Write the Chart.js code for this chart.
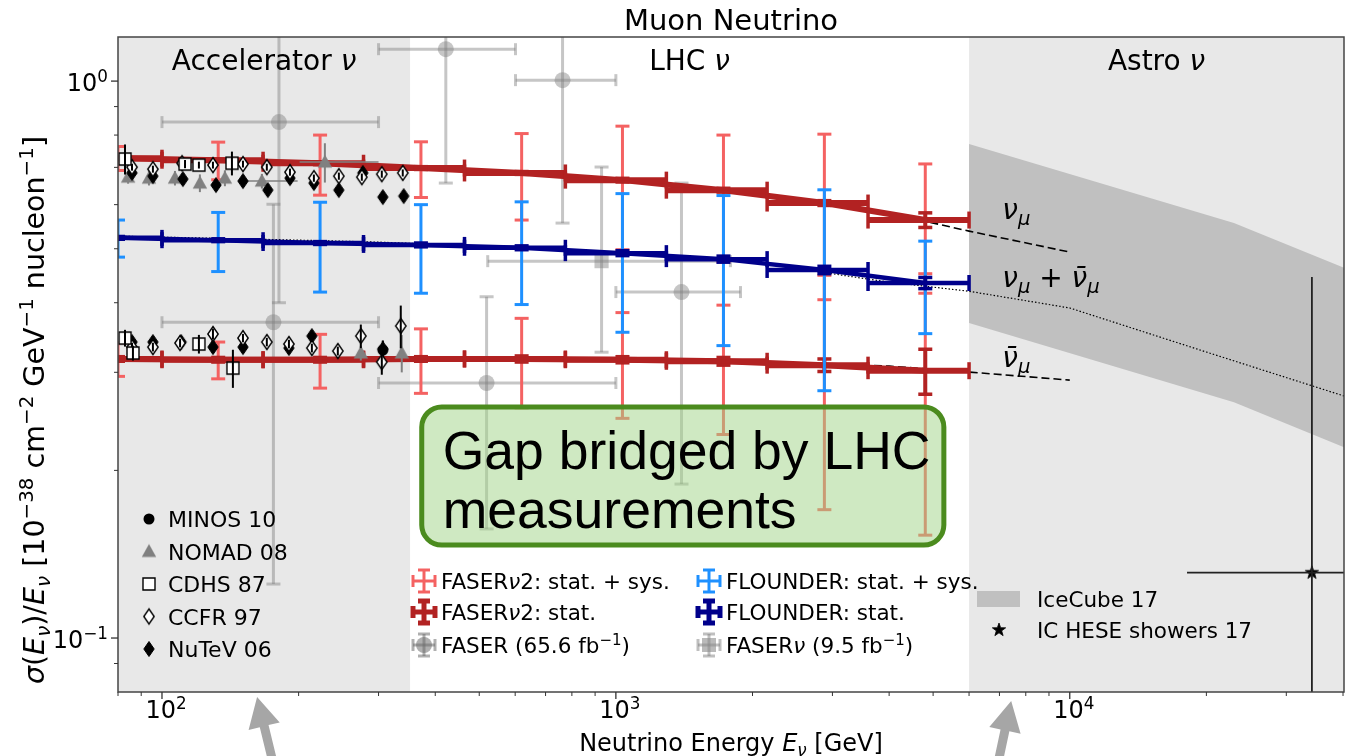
<!DOCTYPE html>
<html>
<head>
<meta charset="utf-8">
<script src="https://cdn.jsdelivr.net/npm/chart.js@4.4.1/dist/chart.umd.min.js"></script>
<style>
  html, body { margin: 0; padding: 0; background: #fff; }
  canvas { display: block; }
</style>
</head>
<body>
<canvas id="chart" width="1354" height="756"></canvas>
<script>
// axis limits and tick values
const xMin = 80, xMax = 40200, yMin = 0.08, yMax = 1.2;
const xMajor = [100, 1000, 10000];
const xMajorLabels = ['2', '3', '4'];
const xMinor = [80, 90, 200, 300, 400, 500, 600, 700, 800, 900, 2000, 3000, 4000, 5000, 6000, 7000, 8000, 9000, 20000, 30000, 40000];
const yMajor = [1, 0.1];
const yMajorLabels = ['0', '−1'];
const yMinor = [0.09, 0.2, 0.3, 0.4, 0.5, 0.6, 0.7, 0.8, 0.9];

// energy regions
const regionEdges = [80, 352, 6000, 40200];
const regionNames = ['Accelerator ', 'LHC ', 'Astro '];

// FASERnu2 / FLOUNDER projections
const binEdges = [60, 100, 167, 278, 464, 774, 1292, 2154, 3594, 6000];
const binCenters = [80, 133, 223, 372, 620, 1034, 1726, 2880, 4805];
const nuVal = [0.727, 0.721, 0.712, 0.698, 0.684, 0.664, 0.637, 0.604, 0.563];
const nuSys = [0.036, 0.056, 0.088, 0.080, 0.121, 0.166, 0.163, 0.199, 0.147];
const nuStat = [0.003, 0.003, 0.004, 0.004, 0.004, 0.005, 0.005, 0.006, 0.017];
const nubarVal = [0.317, 0.316, 0.316, 0.317, 0.317, 0.316, 0.314, 0.309, 0.302];
const nubarSys = [0.022, 0.024, 0.035, 0.042, 0.058, 0.068, 0.082, 0.139, 0.149];
const nubarStat = [0.003, 0.003, 0.003, 0.003, 0.004, 0.004, 0.005, 0.008, 0.028];
const sumVal = [0.523, 0.518, 0.512, 0.508, 0.502, 0.491, 0.479, 0.458, 0.434];
const sumSys = [0.040, 0.063, 0.094, 0.092, 0.105, 0.137, 0.144, 0.180, 0.082];
const sumStat = [0.003, 0.003, 0.003, 0.004, 0.004, 0.005, 0.006, 0.007, 0.010];

// theory curves
const theoryE = [80, 100, 200, 300, 500, 1000, 2000, 4000, 6000, 10000];
const theoryNu = [0.727, 0.7245, 0.7154, 0.7066, 0.6892, 0.6632, 0.6296, 0.5794, 0.5378, 0.4932];
const theoryNubar = [0.3169, 0.3169, 0.3169, 0.3169, 0.3164, 0.3156, 0.3130, 0.3078, 0.3003, 0.2905];
const theorySumE = [80, 100, 200, 300, 500, 1000, 2000, 4000, 6000, 10000, 20000, 40200];
const theorySum = [0.5268, 0.5246, 0.5182, 0.5139, 0.5055, 0.4932, 0.4732, 0.4356, 0.4194, 0.3914, 0.3262, 0.2720];

// IceCube
const iceE = [6000, 23000, 40200];
const iceHi = [0.771, 0.556, 0.462];
const iceLo = [0.368, 0.265, 0.220];
const heseE = [34160], heseVal = [0.131], heseXlo = [18130], heseXhi = [60000], heseYlo = [0.05], heseYhi = [0.445];

// FASER 65.6 fb-1 and FASERnu 9.5 fb-1
const faserE = [181, 422, 763, 176, 519, 1395];
const faserVal = [0.844, 1.141, 1.004, 0.369, 0.287, 0.418];
const faserXlo = [100, 300, 601, 100, 300, 1000];
const faserXhi = [300, 601, 1000, 300, 1000, 1882];
const faserYlo = [0.400, 0.656, 0.556, 0.125, 0.157, 0.189];
const faserYhi = [1.6, 1.7, 1.5, 0.601, 0.410, 0.656];
const fasernuE = [930], fasernuVal = [0.475], fasernuXlo = [522], fasernuXhi = [1788], fasernuYlo = [0.326], fasernuYhi = [0.701];

// accelerator measurements
const minosE = [306.6], minosVal = [0.3289], minosErr = [0.012];
const nomadE = [84.2, 93.6, 106.8, 121.2, 137.6, 166.0, 228.5, 274.2, 337.5];
const nomadVal = [0.6723, 0.6695, 0.6695, 0.6559, 0.6695, 0.6613, 0.7154, 0.3249, 0.3249];
const nomadErr = [0.018, 0.02, 0.02, 0.024, 0.022, 0.02, 0.058, 0.01, 0.025];
const nomadXlo = [null, null, null, null, null, 147, 201, null, null];
const nomadXhi = [null, null, null, null, null, 199, 300, null, null];
const cdhsE = [82.9, 112.4, 120.6, 142.6, 82.9, 86.3, 120.6, 143.3];
const cdhsVal = [0.7245, 0.7096, 0.7066, 0.7121, 0.3456, 0.3249, 0.3372, 0.3053];
const cdhsErr = [0.045, 0.012, 0.01, 0.035, 0.012, 0.01, 0.013, 0.024];
const ccfrE = [85.9, 95.5, 110.7, 129.5, 150.8, 170.2, 191.4, 216.1, 245.3, 275.6, 305.0, 339.2,
               85.9, 95.5, 109.6, 129.5, 150.8, 170.2, 190.4, 213.9, 244.0, 274.2, 305.0, 335.8];
const ccfrVal = [0.7006, 0.6949, 0.7121, 0.7066, 0.7096, 0.7006, 0.6863, 0.6695, 0.6751, 0.6723, 0.6807, 0.6841,
                 0.3330, 0.3330, 0.3386, 0.3514, 0.3456, 0.3400, 0.3372, 0.3317, 0.3276, 0.3485, 0.3130, 0.3633];
const ccfrErr = [0.01, 0.01, 0.01, 0.01, 0.01, 0.01, 0.01, 0.01, 0.01, 0.01, 0.01, 0.01,
                 0.006, 0.006, 0.006, 0.008, 0.006, 0.006, 0.006, 0.006, 0.006, 0.017, 0.016, 0.032];
const nutevE = [85.9, 95.5, 111.2, 131.5, 150.8, 171.1, 191.4, 216.1, 245.3, 277.0, 306.6, 340.9,
                85.9, 95.5, 110.2, 129.5, 150.8, 190.4, 213.9, 306.6];
const nutevVal = [0.6841, 0.6751, 0.6668, 0.6505, 0.6613, 0.6372, 0.6695, 0.6559, 0.6372, 0.6841, 0.6190, 0.6216,
                  0.3400, 0.3400, 0.3400, 0.3330, 0.3330, 0.3317, 0.3485, 0.3303];
const nutevErr = [0.008, 0.008, 0.008, 0.008, 0.008, 0.008, 0.008, 0.008, 0.008, 0.008, 0.008, 0.008,
                  0.005, 0.005, 0.005, 0.005, 0.005, 0.005, 0.005, 0.012];

const LIGHT_RED = 'rgb(244,98,98)', DARK_RED = '#b22222', LIGHT_BLUE = '#1e90ff', DARK_BLUE = '#00008b';
const GRAY_A = 'rgba(128,128,128,0.45)', SHADE = '#e8e8e8', BAND = '#c0c0c0';
const FONT = '"DejaVu Sans"';

const pts = (xs, ys) => xs.map((x, i) => ({ x, y: ys[i] }));
const minus = (v, e) => v.map((a, i) => a - e[i]);
const plus = (v, e) => v.map((a, i) => a + e[i]);

function marker(kind, fill, stroke, lw) {
  const c = document.createElement('canvas');
  c.width = 20; c.height = 20;
  const g = c.getContext('2d');
  g.translate(10, 10);
  g.beginPath();
  if (kind === 'd') { g.moveTo(0, -7.5); g.lineTo(5.2, 0); g.lineTo(0, 7.5); g.lineTo(-5.2, 0); g.closePath(); }
  else if (kind === 's') g.rect(-6, -6, 12, 12);
  else if (kind === '^') { g.moveTo(0, -7.5); g.lineTo(7.2, 5.5); g.lineTo(-7.2, 5.5); g.closePath(); }
  else if (kind === 'o') g.arc(0, 0, 5.5, 0, Math.PI * 2);
  else if (kind === '*') {
    for (let k = 0; k < 10; k++) {
      const r = k % 2 ? 2.8 : 7, a = -Math.PI / 2 + k * Math.PI / 5;
      g.lineTo(r * Math.cos(a), r * Math.sin(a));
    }
    g.closePath();
  }
  g.fillStyle = fill; g.fill();
  if (stroke) { g.lineWidth = lw; g.strokeStyle = stroke; g.stroke(); }
  return c;
}
const mk = {
  minos: marker('o', '#000'),
  nomad: marker('^', '#808080'),
  cdhs: marker('s', '#fff', '#000', 1.4),
  ccfr: marker('d', '#fff', '#000', 1.4),
  nutev: marker('d', '#000', '#000', 1),
  star: marker('*', '#000', '#000', 0.8)
};

const base = { showLine: false, pointRadius: 0, borderWidth: 0 };
const datasets = [
  Object.assign({}, base, { order: 100, data: pts(iceE, iceLo), showLine: true, fill: false }),
  Object.assign({}, base, { order: 100, data: pts(iceE, iceHi), showLine: true, fill: '-1', backgroundColor: BAND }),
  Object.assign({}, base, { order: 90, data: pts(faserE, faserVal), pointStyle: 'circle', pointRadius: 8, backgroundColor: GRAY_A,
    eb: { color: GRAY_A, xlo: faserXlo, xhi: faserXhi, ylo: faserYlo, yhi: faserYhi, xw: 3, yw: 3, xcap: 6, ycap: 7, capw: 3 } }),
  Object.assign({}, base, { order: 90, data: pts(fasernuE, fasernuVal), pointStyle: 'rect', pointRadius: 10, backgroundColor: 'rgba(140,140,140,0.5)',
    eb: { color: GRAY_A, xlo: fasernuXlo, xhi: fasernuXhi, ylo: fasernuYlo, yhi: fasernuYhi, xw: 3, yw: 3, xcap: 6, ycap: 7, capw: 3 } }),
  Object.assign({}, base, { order: 85, data: pts(theorySumE, theorySum), showLine: true, borderWidth: 1.2, borderColor: '#000', borderDash: [1.5, 2] }),
  Object.assign({}, base, { order: 85, data: pts(theoryE, theoryNu), showLine: true, borderWidth: 1.6, borderColor: '#000', borderDash: [8, 4] }),
  Object.assign({}, base, { order: 85, data: pts(theoryE, theoryNubar), showLine: true, borderWidth: 1.6, borderColor: '#000', borderDash: [8, 4] }),
  Object.assign({}, base, { order: 80, data: pts(heseE, heseVal), pointStyle: mk.star, pointRadius: 6,
    eb: { color: '#222', xlo: heseXlo, xhi: heseXhi, ylo: heseYlo, yhi: heseYhi, xw: 1.8, yw: 1.8 } }),
  Object.assign({}, base, { order: 60, data: pts(binCenters, nuVal),
    eb: { color: LIGHT_RED, ylo: minus(nuVal, nuSys), yhi: plus(nuVal, nuSys), yw: 3, ycap: 7, capw: 3 } }),
  Object.assign({}, base, { order: 60, data: pts(binCenters, nubarVal),
    eb: { color: LIGHT_RED, ylo: minus(nubarVal, nubarSys), yhi: plus(nubarVal, nubarSys), yw: 3, ycap: 7, capw: 3 } }),
  Object.assign({}, base, { order: 50, data: pts(binCenters, nuVal), showLine: true, borderWidth: 6, borderColor: DARK_RED,
    eb: { color: DARK_RED, xlo: binEdges.slice(0, -1), xhi: binEdges.slice(1), ylo: minus(nuVal, nuStat), yhi: plus(nuVal, nuStat), xw: 6, yw: 4, xcap: 8.5, ycap: 7, capw: 3.5 } }),
  Object.assign({}, base, { order: 50, data: pts(binCenters, nubarVal), showLine: true, borderWidth: 6, borderColor: DARK_RED,
    eb: { color: DARK_RED, xlo: binEdges.slice(0, -1), xhi: binEdges.slice(1), ylo: minus(nubarVal, nubarStat), yhi: plus(nubarVal, nubarStat), xw: 6, yw: 4, xcap: 8.5, ycap: 7, capw: 3.5 } }),
  Object.assign({}, base, { order: 40, data: pts(binCenters, sumVal),
    eb: { color: LIGHT_BLUE, ylo: minus(sumVal, sumSys), yhi: plus(sumVal, sumSys), yw: 3, ycap: 7, capw: 3 } }),
  Object.assign({}, base, { order: 30, data: pts(binCenters, sumVal), showLine: true, borderWidth: 4.5, borderColor: DARK_BLUE,
    eb: { color: DARK_BLUE, xlo: binEdges.slice(0, -1), xhi: binEdges.slice(1), ylo: minus(sumVal, sumStat), yhi: plus(sumVal, sumStat), xw: 4.5, yw: 4, xcap: 8, ycap: 7, capw: 3.5 } }),
  Object.assign({}, base, { order: 12, data: pts(nomadE, nomadVal), pointStyle: mk.nomad, pointRadius: 6,
    eb: { color: '#808080', xlo: nomadXlo, xhi: nomadXhi, ylo: minus(nomadVal, nomadErr), yhi: plus(nomadVal, nomadErr), xw: 1.5, yw: 2 } }),
  Object.assign({}, base, { order: 11, data: pts(minosE, minosVal), pointStyle: mk.minos, pointRadius: 6,
    eb: { color: '#000', ylo: minus(minosVal, minosErr), yhi: plus(minosVal, minosErr), yw: 2 } }),
  Object.assign({}, base, { order: 10, data: pts(nutevE, nutevVal), pointStyle: mk.nutev, pointRadius: 6,
    eb: { color: '#000', ylo: minus(nutevVal, nutevErr), yhi: plus(nutevVal, nutevErr), yw: 2 } }),
  Object.assign({}, base, { order: 9, data: pts(ccfrE, ccfrVal), pointStyle: mk.ccfr, pointRadius: 6,
    eb: { color: '#000', ylo: minus(ccfrVal, ccfrErr), yhi: plus(ccfrVal, ccfrErr), yw: 2 } }),
  Object.assign({}, base, { order: 8, data: pts(cdhsE, cdhsVal), pointStyle: mk.cdhs, pointRadius: 6,
    eb: { color: '#000', ylo: minus(cdhsVal, cdhsErr), yhi: plus(cdhsVal, cdhsErr), yw: 2 } })
];

function seg(ctx, x0, y0, x1, y1, w) {
  ctx.lineWidth = w;
  ctx.beginPath(); ctx.moveTo(x0, y0); ctx.lineTo(x1, y1); ctx.stroke();
}

// text with italic / superscript / subscript pieces: [text, flags]
function rich(ctx, parts, x, y, size, align, family) {
  const fam = family || FONT;
  const items = parts.map(([t, f = '']) => {
    const small = f.includes('^') || f.includes('_');
    const font = (f.includes('i') ? 'italic ' : '') + (small ? size * 0.7 : size).toFixed(1) + 'px ' + fam;
    ctx.font = font;
    return { t, font, w: ctx.measureText(t).width, dy: f.includes('^') ? -size * 0.38 : f.includes('_') ? size * 0.22 : 0 };
  });
  const total = items.reduce((s, it) => s + it.w, 0);
  let cx = align === 'center' ? x - total / 2 : align === 'right' ? x - total : x;
  ctx.textAlign = 'left';
  ctx.textBaseline = 'alphabetic';
  items.forEach(it => { ctx.font = it.font; ctx.fillText(it.t, cx, y + it.dy); cx += it.w; });
  return total;
}

const errorBarPlugin = {
  id: 'errorBars',
  afterDatasetDraw(chart, args) {
    const ds = chart.data.datasets[args.index];
    const eb = ds.eb;
    if (!eb) return;
    const { ctx, chartArea: a } = chart;
    const xs = chart.scales.x, ys = chart.scales.y;
    ctx.save();
    ctx.beginPath(); ctx.rect(a.left, a.top, a.right - a.left, a.bottom - a.top); ctx.clip();
    ctx.strokeStyle = eb.color;
    ctx.lineCap = 'butt';
    ds.data.forEach((p, i) => {
      const px = xs.getPixelForValue(p.x), py = ys.getPixelForValue(p.y);
      if (eb.xlo && eb.xlo[i] != null) {
        const x0 = xs.getPixelForValue(eb.xlo[i]), x1 = xs.getPixelForValue(eb.xhi[i]);
        seg(ctx, x0, py, x1, py, eb.xw);
        if (eb.xcap) {
          seg(ctx, x0, py - eb.xcap, x0, py + eb.xcap, eb.capw);
          seg(ctx, x1, py - eb.xcap, x1, py + eb.xcap, eb.capw);
        }
      }
      if (eb.ylo && eb.ylo[i] != null) {
        const y0 = ys.getPixelForValue(eb.ylo[i]), y1 = ys.getPixelForValue(eb.yhi[i]);
        seg(ctx, px, y0, px, y1, eb.yw);
        if (eb.ycap) {
          seg(ctx, px - eb.ycap, y0, px + eb.ycap, y0, eb.capw);
          seg(ctx, px - eb.ycap, y1, px + eb.ycap, y1, eb.capw);
        }
      }
    });
    ctx.restore();
  }
};

const backgroundPlugin = {
  id: 'background',
  beforeDraw(chart) {
    const ctx = chart.ctx;
    ctx.save(); ctx.fillStyle = '#fff'; ctx.fillRect(0, 0, chart.width, chart.height); ctx.restore();
  },
  beforeDatasetsDraw(chart) {
    const { ctx, chartArea: a } = chart;
    const xs = chart.scales.x;
    ctx.save();
    ctx.fillStyle = SHADE;
    [[regionEdges[0], regionEdges[1]], [regionEdges[2], regionEdges[3]]].forEach(([l, r]) => {
      const x0 = xs.getPixelForValue(l), x1 = xs.getPixelForValue(r);
      ctx.fillRect(x0, a.top, x1 - x0, a.bottom - a.top);
    });
    ctx.restore();
  }
};

function ebHandle(ctx, cx, cy, color, w, half, cap) {
  ctx.strokeStyle = color;
  seg(ctx, cx - half, cy, cx + half, cy, w);
  seg(ctx, cx, cy - half, cx, cy + half, w);
  seg(ctx, cx - half, cy - cap, cx - half, cy + cap, w);
  seg(ctx, cx + half, cy - cap, cx + half, cy + cap, w);
  seg(ctx, cx - cap, cy - half, cx + cap, cy - half, w);
  seg(ctx, cx - cap, cy + half, cx + cap, cy + half, w);
}

function arrow(ctx, tx, ty, bx, by) {
  const ang = Math.atan2(ty - by, tx - bx), L = Math.hypot(tx - bx, ty - by);
  ctx.save();
  ctx.translate(tx, ty); ctx.rotate(ang);
  ctx.beginPath();
  ctx.moveTo(0, 0); ctx.lineTo(-30, -16); ctx.lineTo(-30, -4.5); ctx.lineTo(-L, -4.5);
  ctx.lineTo(-L, 4.5); ctx.lineTo(-30, 4.5); ctx.lineTo(-30, 16); ctx.closePath();
  ctx.fillStyle = '#a6a6a6'; ctx.fill();
  ctx.restore();
}

const decorPlugin = {
  id: 'decor',
  afterDraw(chart) {
    const { ctx, chartArea: a } = chart;
    const xs = chart.scales.x, ys = chart.scales.y;
    ctx.save();
    ctx.fillStyle = '#000';

    // spines and ticks
    ctx.strokeStyle = '#444';
    ctx.lineWidth = 1.5;
    ctx.strokeRect(a.left, a.top, a.right - a.left, a.bottom - a.top);
    ctx.strokeStyle = '#333';
    xMajor.forEach(v => { const p = xs.getPixelForValue(v); seg(ctx, p, a.bottom, p, a.bottom + 7, 1.3); });
    xMinor.forEach(v => { const p = xs.getPixelForValue(v); seg(ctx, p, a.bottom, p, a.bottom + 4, 1); });
    yMajor.forEach(v => { const p = ys.getPixelForValue(v); seg(ctx, a.left - 7, p, a.left, p, 1.3); });
    yMinor.forEach(v => { const p = ys.getPixelForValue(v); seg(ctx, a.left - 4, p, a.left, p, 1); });
    xMajor.forEach((v, i) => rich(ctx, [['10'], [xMajorLabels[i], '^']], xs.getPixelForValue(v) + 4, a.bottom + 26, 24, 'center'));
    yMajor.forEach((v, i) => rich(ctx, [['10'], [yMajorLabels[i], '^']], a.left - 10, ys.getPixelForValue(v) + 10, 24, 'right'));

    // axis labels and title
    rich(ctx, [['Neutrino Energy '], ['E', 'i'], ['ν', 'i_'], [' [GeV]']], (a.left + a.right) / 2, 751, 24, 'center');
    ctx.save();
    ctx.translate(44, 410);
    ctx.rotate(-Math.PI / 2);
    rich(ctx, [['σ', 'i'], ['('], ['E', 'i'], ['ν', 'i_'], [')/'], ['E', 'i'], ['ν', 'i_'], [' [10'], ['−38', '^'], [' cm'], ['−2', '^'],
      [' GeV'], ['−1', '^'], [' nucleon'], ['−1', '^'], [']']], 0, 0, 28.5, 'center');
    ctx.restore();
    ctx.font = '29px ' + FONT; ctx.textAlign = 'center';
    ctx.fillText('Muon Neutrino', (a.left + a.right) / 2, 30);

    // region labels
    regionNames.forEach((name, i) => {
      const cx = (xs.getPixelForValue(regionEdges[i]) + xs.getPixelForValue(regionEdges[i + 1])) / 2;
      rich(ctx, [[name], ['ν', 'i']], cx, a.top + 33, 28, 'center');
    });

    // curve labels
    const lx = xs.getPixelForValue(7100);
    rich(ctx, [['ν', 'i'], ['μ', 'i_']], lx, ys.getPixelForValue(0.565), 28, 'left');
    rich(ctx, [['ν', 'i'], ['μ', 'i_'], [' + '], ['ν̄', 'i'], ['μ', 'i_']], lx, ys.getPixelForValue(0.4268), 28, 'left');
    rich(ctx, [['ν̄', 'i'], ['μ', 'i_']], lx, ys.getPixelForValue(0.3066), 28, 'left');

    // left legend
    const accel = [[mk.minos, 'MINOS 10'], [mk.nomad, 'NOMAD 08'], [mk.cdhs, 'CDHS 87'], [mk.ccfr, 'CCFR 97'], [mk.nutev, 'NuTeV 06']];
    accel.forEach(([m, label], i) => {
      const cy = 519 + i * 32.5;
      ctx.drawImage(m, a.left + 31 - 10, cy - 10);
      ctx.fillStyle = '#000';
      rich(ctx, [[label]], a.left + 50, cy + 8, 22, 'left');
    });

    // middle legend
    const rows = [581, 612, 645];
    const c1 = 424, c2 = 709;
    ebHandle(ctx, c1, rows[0], LIGHT_RED, 3, 11, 6);
    ebHandle(ctx, c1, rows[1], DARK_RED, 5, 11, 6);
    ebHandle(ctx, c1, rows[2], 'rgba(110,110,110,0.55)', 3, 11, 6);
    ctx.fillStyle = 'rgba(110,110,110,0.55)'; ctx.beginPath(); ctx.arc(c1, rows[2], 8, 0, Math.PI * 2); ctx.fill();
    ebHandle(ctx, c2, rows[0], LIGHT_BLUE, 3, 11, 6);
    ebHandle(ctx, c2, rows[1], DARK_BLUE, 5, 11, 6);
    ebHandle(ctx, c2, rows[2], 'rgba(128,128,128,0.5)', 3, 11, 6);
    ctx.fillStyle = 'rgba(140,140,140,0.6)'; ctx.fillRect(c2 - 7, rows[2] - 7, 14, 14);
    ctx.fillStyle = '#000';
    const ts = 21.5;
    rich(ctx, [['FASER'], ['ν', 'i'], ['2: stat. + sys.']], c1 + 17, rows[0] + 8, ts, 'left');
    rich(ctx, [['FASER'], ['ν', 'i'], ['2: stat.']], c1 + 17, rows[1] + 8, ts, 'left');
    rich(ctx, [['FASER (65.6 fb'], ['−1', '^'], [')']], c1 + 17, rows[2] + 8, ts, 'left');
    rich(ctx, [['FLOUNDER: stat. + sys.']], c2 + 17, rows[0] + 8, ts, 'left');
    rich(ctx, [['FLOUNDER: stat.']], c2 + 17, rows[1] + 8, ts, 'left');
    rich(ctx, [['FASER'], ['ν', 'i'], [' (9.5 fb'], ['−1', '^'], [')']], c2 + 17, rows[2] + 8, ts, 'left');

    // right legend
    ctx.fillStyle = BAND; ctx.fillRect(977, 591, 43, 16);
    ctx.drawImage(mk.star, 999 - 10, 630 - 10);
    ctx.fillStyle = '#000';
    rich(ctx, [['IceCube 17']], 1037, 606.5, ts, 'left');
    rich(ctx, [['IC HESE showers 17']], 1037, 637.5, ts, 'left');

    // annotation box
    const bx0 = xs.getPixelForValue(373.5), bx1 = xs.getPixelForValue(5280);
    const by0 = ys.getPixelForValue(0.2599), by1 = ys.getPixelForValue(0.1469);
    ctx.beginPath();
    ctx.roundRect(bx0, by0, bx1 - bx0, by1 - by0, 20);
    ctx.fillStyle = 'rgba(159,211,133,0.5)'; ctx.fill();
    ctx.lineWidth = 5; ctx.strokeStyle = '#4b8b1e'; ctx.stroke();
    ctx.fillStyle = '#000';
    ctx.font = '53.5px "Liberation Sans"'; ctx.textAlign = 'left';
    ctx.fillText('Gap bridged by LHC', bx0 + 21, by0 + 62);
    ctx.fillText('measurements', bx0 + 21, by0 + 121);

    // arrows below the axis
    arrow(ctx, xs.getPixelForValue(162), a.bottom + 5, xs.getPixelForValue(175.5), chart.height + 6);
    arrow(ctx, xs.getPixelForValue(7430), a.bottom + 9, xs.getPixelForValue(6957), chart.height + 6);
    ctx.restore();
  }
};

new Chart(document.getElementById('chart'), {
  type: 'scatter',
  data: { datasets },
  options: {
    responsive: false,
    animation: false,
    devicePixelRatio: 1,
    layout: { padding: { left: 0, right: 9, top: 37, bottom: 0 } },
    plugins: { legend: { display: false }, tooltip: { enabled: false } },
    scales: {
      x: {
        type: 'logarithmic', min: xMin, max: xMax,
        grid: { display: false }, border: { display: false }, ticks: { display: false },
        afterFit: s => { s.height = 64; }
      },
      y: {
        type: 'logarithmic', min: yMin, max: yMax,
        grid: { display: false }, border: { display: false }, ticks: { display: false },
        afterFit: s => { s.width = 118; }
      }
    }
  },
  plugins: [backgroundPlugin, errorBarPlugin, decorPlugin]
});
</script>
</body>
</html>
